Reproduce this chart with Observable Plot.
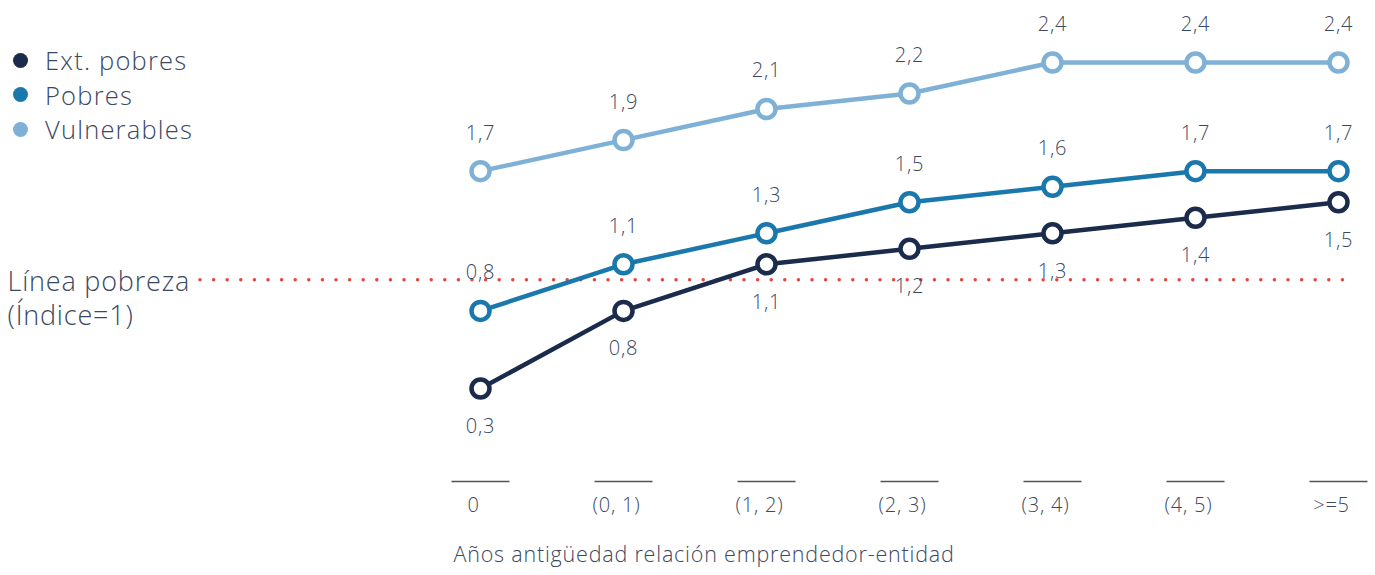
<!DOCTYPE html>
<html>
<head>
<meta charset="utf-8">
<script src="https://cdn.jsdelivr.net/npm/d3@7"></script>
<script src="https://cdn.jsdelivr.net/npm/@observablehq/plot@0.6"></script>
<style>
  html, body { margin: 0; padding: 0; background: #fff; }
  #wrap { position: relative; width: 1375px; height: 575px; font-family: "Open Sans", Lato, sans-serif; font-weight: 300; color: #3a4862; }
  #legend { position: absolute; left: 13px; top: 43px; font-size: 25.5px; letter-spacing: 1.2px; line-height: 34.5px; }
  #legend .item { display: flex; align-items: center; white-space: nowrap; }
  #legend .sw { width: 15px; height: 15px; border-radius: 50%; margin-right: 17px; }
</style>
</head>
<body>
<div id="wrap">
  <div id="chart"></div>
  <div id="legend"></div>
</div>
<script>
const categories = ["0", "(0, 1)", "(1, 2)", "(2, 3)", "(3, 4)", "(4, 5)", ">=5"];
const extPobres = [0.3, 0.8, 1.1, 1.2, 1.3, 1.4, 1.5];
const pobres = [0.8, 1.1, 1.3, 1.5, 1.6, 1.7, 1.7];
const vulnerables = [1.7, 1.9, 2.1, 2.2, 2.4, 2.4, 2.4];
const seriesNames = ["Ext. pobres", "Pobres", "Vulnerables"];
const seriesColors = ["#1b2b4b", "#1a78ad", "#7fb1d7"];
const povertyLine = 1;
const povertyLabel = "Línea pobreza\n(Índice=1)";
const axisTitle = "Años antigüedad relación emprendedor-entidad";

const seriesValues = [extPobres, pobres, vulnerables];
const rows = seriesValues.flatMap((vals, s) =>
  vals.map((v, i) => ({series: seriesNames[s], cat: categories[i], value: v})));
const fmt = v => d3.format(".1f")(v).replace(".", ",");

const tickSymbol = {
  draw(ctx) { ctx.moveTo(-29, 0); ctx.lineTo(29, 0); }
};

const chart = Plot.plot({
  width: 1375,
  height: 575,
  marginLeft: 200,
  marginRight: 20,
  marginTop: 0,
  marginBottom: 0,
  x: {type: "point", domain: categories, range: [478, 1340], padding: 0, axis: null},
  y: {domain: [0.3, 2.4], range: [388, 62], axis: null},
  color: {domain: seriesNames, range: seriesColors},
  style: {fontFamily: "'Open Sans', Lato, sans-serif", fontWeight: 300, letterSpacing: "0.8px", color: "#3a4862", background: "white"},
  marks: [
    Plot.ruleY([povertyLine], {stroke: "#e8433d", strokeWidth: 3.5, strokeDasharray: "0 13.6", strokeLinecap: "round"}),
    Plot.text([povertyLine], {y: d => d, frameAnchor: "left", dx: -193, dy: -13, textAnchor: "start", lineAnchor: "top",
      text: () => povertyLabel, fontSize: 27, lineHeight: 1.27, fill: "#3a4862"}),
    Plot.line(rows, {x: "cat", y: "value", z: "series", stroke: "series", strokeWidth: 4.5}),
    Plot.dot(rows, {x: "cat", y: "value", stroke: "series", fill: "white", r: 9, strokeWidth: 4.5}),
    Plot.text(rows.filter(d => d.series !== "Ext. pobres"), {x: "cat", y: "value", text: d => fmt(d.value), dy: -38, fontSize: 20, fill: "#3a4862"}),
    Plot.text(rows.filter(d => d.series === "Ext. pobres"), {x: "cat", y: "value", text: d => fmt(d.value), dy: 38, fontSize: 20, fill: "#3a4862"}),
    Plot.dot(categories, {x: d => d, frameAnchor: "bottom", dy: -94, symbol: tickSymbol, r: 5, stroke: "#555", strokeWidth: 1.5, fill: "none"}),
    Plot.text(categories, {x: d => d, frameAnchor: "bottom", dy: -64, dx: -7, fontSize: 20, fill: "#3a4862"}),
    Plot.text([axisTitle], {frameAnchor: "bottom", dx: -74, dy: -14, fontSize: 21.5, fill: "#3a4862"})
  ]
});
document.getElementById("chart").appendChild(chart);

const legend = document.getElementById("legend");
seriesNames.forEach((name, i) => {
  const item = document.createElement("div");
  item.className = "item";
  const sw = document.createElement("span");
  sw.className = "sw";
  sw.style.background = seriesColors[i];
  const label = document.createElement("span");
  label.textContent = name;
  item.appendChild(sw);
  item.appendChild(label);
  legend.appendChild(item);
});
</script>
</body>
</html>
